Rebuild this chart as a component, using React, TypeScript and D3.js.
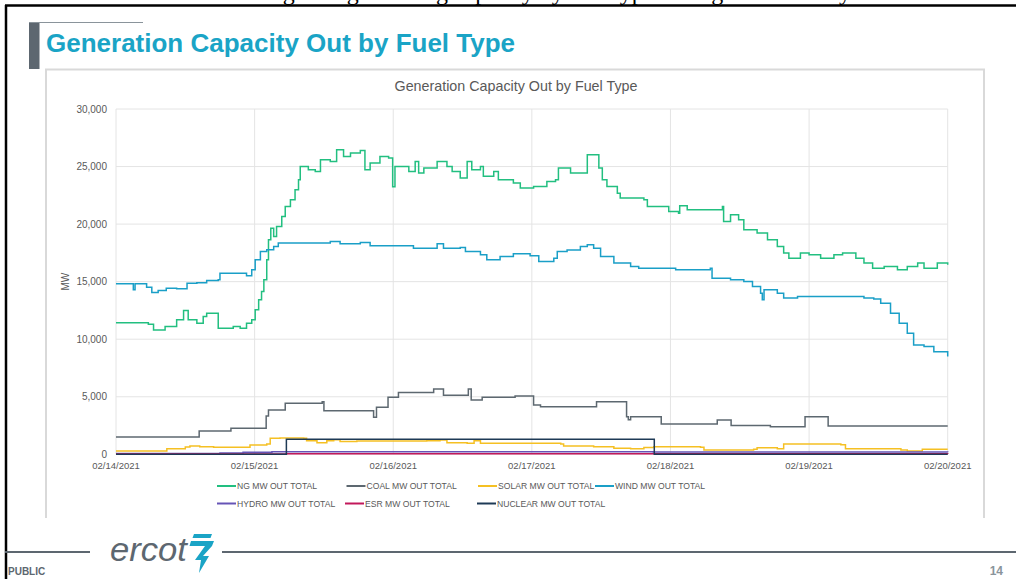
import * as d3 from "d3";

// hours since 02/14/2021 00:00, MW out
const NG: [number, number][] = [
  [0, 11440], [5.6, 11300], [6.5, 10810], [8.5, 11100], [10.5, 11680], [11.7, 12490], [12.5, 11680],
  [14, 11390], [15.1, 11970], [15.7, 12260], [17.7, 10950], [20.3, 11100], [21.5, 10950], [22.6, 11390],
  [23.5, 11680], [24.1, 12550], [24.7, 13420], [25.2, 14140], [25.6, 15160], [26.1, 16900], [26.4, 18640],
  [26.8, 19650], [27.3, 18920], [27.8, 19790], [28.7, 20660], [29.3, 21530], [30.2, 22110], [31, 22980],
  [31.6, 23850], [31.9, 25010], [33.3, 24720], [34.5, 24580], [35.4, 25590], [37.1, 25440], [38.2, 26460],
  [39.4, 25880], [40.6, 26170], [42.3, 26400], [43.1, 24720], [44, 25300], [45.7, 25880], [47.2, 25740],
  [47.9, 23240], [48.3, 25010], [50.7, 24580], [51.8, 25440], [52.4, 24440], [53.3, 24870], [55.6, 25440],
  [57.3, 25010], [58.2, 24570], [59.6, 24000], [60.8, 25440], [61.6, 24720], [63.1, 25010], [63.6, 24150],
  [65.4, 24580], [66.2, 23850], [68.8, 23560], [70, 23130], [72.3, 23270], [74.6, 23700], [76.1, 23850],
  [76.6, 24870], [78.7, 24440], [81.6, 26030], [83.6, 24870], [84.2, 23850], [85, 23270], [86.8, 22690],
  [87.3, 22260], [91.4, 22110], [92, 21530], [95.7, 21100], [97.4, 20950], [97.6, 21600], [98.9, 21240],
  [105, 21530], [105.2, 20230], [106.4, 20810], [107.8, 20370], [108.7, 19500], [111, 19220],
  [112.8, 18640], [114.5, 18050], [115.6, 17480], [116.5, 17040], [118.5, 17480], [120, 17330],
  [122, 17040], [124.3, 17330], [125.8, 17480], [128.1, 17040], [129.5, 16610], [131, 16170],
  [133, 16320], [135.3, 16030], [137, 16320], [138.8, 16610], [139.9, 16170], [142.2, 16610], [144, 16460],
];

const COAL: [number, number][] = [
  [0, 1500], [14.4, 2030], [19.9, 2260], [26, 3330], [26.4, 3850], [29.3, 4430], [35.7, 4560],
  [36, 3790], [44.6, 3220], [45.1, 4090], [47.1, 4960], [48.9, 5360], [55, 5680], [56.7, 5130],
  [61, 5680], [61.5, 4720], [63.4, 4960], [69.1, 5070], [72.3, 4290], [73.5, 4140], [83.2, 4575],
  [88.4, 3270], [88.7, 3000], [89.1, 3270], [94.4, 2635], [104.1, 2980], [106.5, 2510], [106.9, 2500],
  [113.3, 2400], [119.3, 3270], [123.3, 2460], [144, 2460],
];

const SOLAR: [number, number][] = [
  [0, 290], [8.8, 490], [12, 640], [12.8, 720], [14.5, 660], [16.9, 610], [23.2, 810], [26.1, 900],
  [26.7, 1390], [28.4, 1420], [32.5, 1390], [33, 1180], [34.8, 1010], [36.5, 1180], [37.7, 1270],
  [38.8, 1120], [41.7, 1150], [53.8, 1180], [56.1, 1240], [57.3, 1010], [60.8, 960], [62, 1180],
  [63.1, 960], [77, 900], [77.5, 720], [82.7, 660], [86.2, 520], [89.1, 490], [91.4, 600], [93.1, 660],
  [101.2, 610], [101.8, 370], [110.4, 430], [111, 575], [114.5, 490], [115.6, 900], [125.5, 820],
  [126.3, 490], [135.9, 370], [137, 290], [139.6, 435], [144, 435],
];

const WIND: [number, number][] = [
  [0, 14810], [2.7, 14810], [3, 14290], [3.3, 14810], [5.3, 14520], [6.2, 14050], [7.3, 14240],
  [8.7, 14430], [10.5, 14380], [12.3, 14870], [14, 14910], [15.7, 15100], [17.7, 15160], [18, 15740],
  [20.3, 15740], [22.6, 15520], [23.5, 16030], [24.1, 16900], [25, 17620], [26.1, 17770], [27.3, 18060],
  [28.1, 18350], [31.9, 18350], [37.1, 18490], [38.8, 18300], [42.3, 18400], [44, 18110], [48.1, 18110],
  [51.5, 17910], [55.6, 18300], [56.7, 17910], [59.6, 17960], [60.5, 17620], [63.1, 17330],
  [64.2, 16900], [66.5, 17180], [68.8, 17420], [71.7, 17250], [73.2, 16750], [75.8, 17040],
  [76.4, 17620], [78.1, 17760], [80.4, 18050], [81.6, 18200], [82.7, 17910], [83.9, 17180],
  [86.2, 16610], [89.1, 16320], [90.5, 16170], [96.9, 16030], [102.9, 16170], [103.2, 15300],
  [106.4, 15160], [108.7, 15010], [110.2, 14580], [111.6, 14000], [111.9, 13420], [112.2, 14290],
  [114.5, 14000], [115.6, 13570], [118, 13710], [129.5, 13570], [131.2, 13500], [132.4, 13130],
  [134.1, 12260], [135.6, 11390], [137, 10520], [138.1, 9500], [139.9, 9360], [141.6, 8920], [144, 8490],
];

const HYDRO: [number, number][] = [
  [0, 60], [18, 110], [22, 170], [27, 230], [60, 220], [93, 200], [144, 180],
];

const ESR: [number, number][] = [
  [0, 20], [29.5, 40], [93.2, 40], [144, 20],
];

const NUCLEAR: [number, number][] = [
  [0, 0], [29.5, 1300], [93.2, 0], [144, 0],
];

const SERIES = [
  { label: "NG MW OUT TOTAL", data: NG, color: "#22bf80" },
  { label: "COAL MW OUT TOTAL", data: COAL, color: "#5d6870" },
  { label: "SOLAR MW OUT TOTAL", data: SOLAR, color: "#f5c023" },
  { label: "WIND MW OUT TOTAL", data: WIND, color: "#1a9fc7" },
  { label: "HYDRO MW OUT TOTAL", data: HYDRO, color: "#6654b6" },
  { label: "ESR MW OUT TOTAL", data: ESR, color: "#c2185b" },
  { label: "NUCLEAR MW OUT TOTAL", data: NUCLEAR, color: "#1e3a56" },
];

const Y_TICKS = [0, 5000, 10000, 15000, 20000, 25000, 30000];
const DAY0 = Date.UTC(2021, 1, 14);
const toDate = (h: number) => new Date(DAY0 + h * 3600e3);

export default function App() {
  const W = 1016, H = 579;
  const m = { left: 116, right: 947.7, top: 109, bottom: 454.3 };

  const x = d3.scaleUtc().domain([toDate(0), toDate(144)]).range([m.left, m.right]);
  const y = d3.scaleLinear().domain([0, 30000]).range([m.bottom, m.top]);
  const days = x.ticks(d3.utcDay.every(1)!);
  const fmtDay = d3.utcFormat("%m/%d/%Y");
  const fmtY = d3.format(",");

  const line = d3.line<[number, number]>()
    .x(d => x(toDate(d[0])))
    .y(d => y(d[1]))
    .curve(d3.curveStepAfter);

  // legend layout: 4 per row
  const legendCols = [[217, 346.5, 478, 595], [217, 345, 477]];
  const legendRows = [486, 503.5];

  const font = "Liberation Sans, Arial, sans-serif";

  return (
    <div style={{ position: "fixed", left: 0, top: 0, width: W, height: H, background: "#fff" }}>
      <svg width={W} height={H} style={{ display: "block", fontFamily: font }}>
        {/* caption of the slide above, cut off by the page edge */}
        <text x={236} y={0} fontFamily="Liberation Serif, Times New Roman, serif" fontSize={24} fill="#000">
          Outages of generating capacity by fuel type during the February 2021 winter storm, daily,
        </text>

        {/* slide frame */}
        <line x1={5} x2={W} y1={5.5} y2={5.5} stroke="#000" strokeWidth={2.5} />
        <line x1={6} x2={6} y1={5} y2={H} stroke="#000" strokeWidth={2.5} />

        {/* slide title */}
        <rect x={29} y={22} width={10.5} height={47} fill="#5d6770" />
        <line x1={29} x2={143} y1={22.5} y2={22.5} stroke="#8a949b" strokeWidth={1} />
        <text x={46} y={52} fontSize={26} fontWeight="bold" fill="#1aa4c6">
          Generation Capacity Out by Fuel Type
        </text>

        {/* chart frame */}
        <path d="M46,518 V69.5 H984 V518" fill="none" stroke="#d9d9d9" strokeWidth={2} />
        <text x={516} y={91} textAnchor="middle" fontSize={14.3} fill="#595959">
          Generation Capacity Out by Fuel Type
        </text>

        {/* grid */}
        {Y_TICKS.map(t => (
          <line key={"gy" + t} x1={m.left} x2={m.right} y1={y(t)} y2={y(t)} stroke="#e4e4e4" strokeWidth={1} />
        ))}
        {days.map(d => (
          <line key={"gx" + d.getTime()} x1={x(d)} x2={x(d)} y1={m.top} y2={m.bottom} stroke="#e4e4e4" strokeWidth={1} />
        ))}

        {/* axes labels */}
        {Y_TICKS.map(t => (
          <text key={"ty" + t} x={107} y={y(t) + 3.5} textAnchor="end" fontSize={10} fill="#595959">
            {fmtY(t)}
          </text>
        ))}
        {days.map(d => (
          <text key={"tx" + d.getTime()} x={x(d)} y={469} textAnchor="middle" fontSize={9.5} fill="#595959">
            {fmtDay(d)}
          </text>
        ))}
        <text transform={`translate(69,${(m.top + m.bottom) / 2}) rotate(-90)`} textAnchor="middle" fontSize={10} fill="#595959">
          MW
        </text>

        {/* series */}
        {SERIES.map(s => (
          <path key={s.label} d={line(s.data) ?? ""} fill="none" stroke={s.color} strokeWidth={1.5} />
        ))}

        {/* legend */}
        {SERIES.map((s, i) => {
          const row = Math.floor(i / 4);
          const lx = legendCols[row][i % 4];
          const ly = legendRows[row];
          return (
            <g key={"lg" + s.label}>
              <line x1={lx} x2={lx + 19} y1={ly} y2={ly} stroke={s.color} strokeWidth={2} />
              <text x={lx + 20} y={ly + 3} fontSize={8.6} fill="#595959">
                {s.label}
              </text>
            </g>
          );
        })}

        {/* footer */}
        <line x1={5} x2={90} y1={552} y2={552} stroke="#5d6770" strokeWidth={2} />
        <line x1={222} x2={W} y1={552} y2={552} stroke="#5d6770" strokeWidth={2} />
        <text x={110} y={561} fontFamily="Liberation Sans Narrow, Arial Narrow, Liberation Sans, sans-serif"
          fontStyle="italic" fontSize={34} fill="#5d6770" textLength={77} lengthAdjust="spacingAndGlyphs">
          ercot
        </text>
        <g fill="#1aa4c6">
          <path d="M194,534 L212,534 L210.5,538 L192.5,538 Z" />
          <path d="M191,541 L214,541 L212,546 L203,556 L209,556 L199,573 L201,560 L195,560 L205,546 L189.5,546 Z" />
        </g>
        <text x={8} y={575} fontSize={10} fontWeight="bold" fill="#5d6770">PUBLIC</text>
        <text x={1003} y={575} textAnchor="end" fontSize={12} fontWeight="bold" fill="#8a949b">14</text>
      </svg>
    </div>
  );
}
